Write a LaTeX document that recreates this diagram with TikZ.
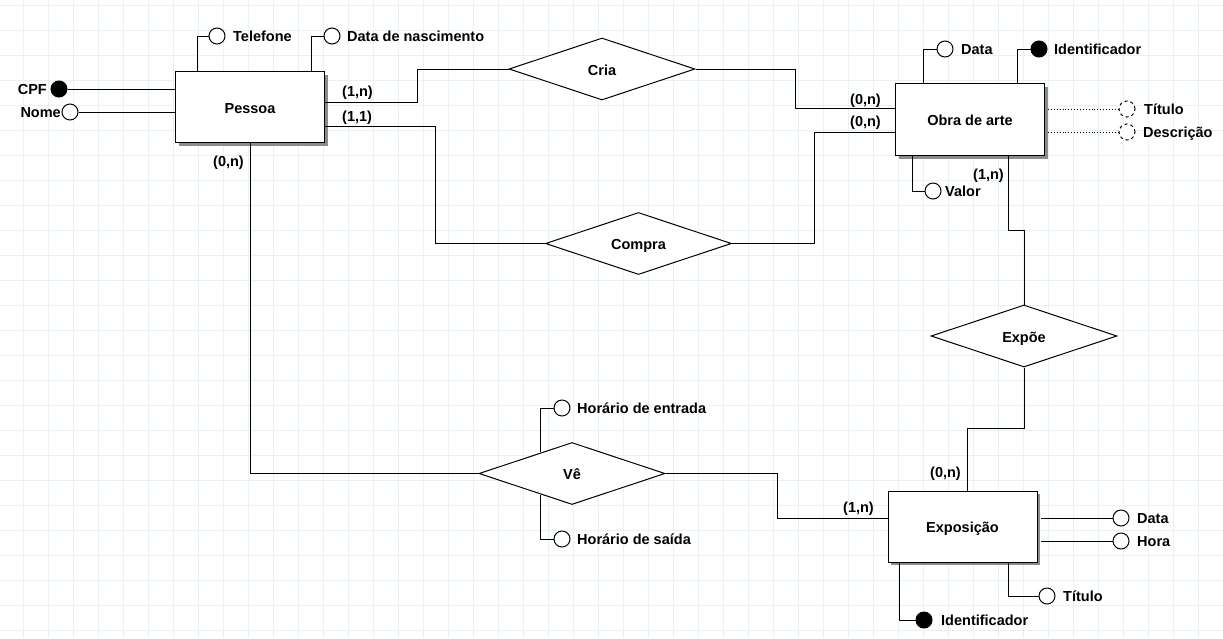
\documentclass[tikz,border=0pt]{standalone}
\usepackage{fontspec}
\setmainfont{Liberation Sans}
\usetikzlibrary{shapes.geometric,calc,shadows}
\definecolor{gridc}{RGB}{234,241,245}
\begin{document}
\begin{tikzpicture}[x=1pt,y=-1pt,
  every node/.style={font=\fontsize{14.5}{16}\selectfont\bfseries},
  entity/.style={draw, fill=white, line width=1pt, minimum width=149pt, minimum height=71pt, inner sep=0pt,
    text height=12pt, text depth=0pt,
    general shadow={fill=black!45, shadow xshift=3pt, shadow yshift=-3pt}},
  rel/.style={draw, fill=white, diamond, line width=1pt, minimum width=186pt, minimum height=62pt, inner sep=0pt, aspect=3,
    text height=12pt, text depth=0pt},
  attr/.style={circle, draw, fill=white, line width=1pt, minimum size=16pt, inner sep=0pt},
  keyattr/.style={attr, fill=black},
  optattr/.style={attr, dashed},
  lbl/.style={anchor=base west, inner sep=0pt, yshift=-5pt},
  lblr/.style={anchor=base east, inner sep=0pt, yshift=-5pt},
  conn/.style={line width=1pt},
]
\useasboundingbox (0,0) rectangle (1223,638);
\fill[white] (0,0) rectangle (1223,638);
\foreach \x in {23,48,...,1223} \draw[gridc, line width=1pt] (\x,0) -- (\x,638);
\foreach \y in {5,30,...,638} \draw[gridc, line width=1pt] (0,\y) -- (1223,\y);

% entities
\node[entity] (pessoa) at (250,107) {Pessoa};
\node[entity, minimum height=72pt] (obra) at (970,119.5) {Obra de arte};
\node[entity] (exposicao) at (962.5,526.5) {Exposição};

% relationships
\node[rel] (cria) at (602,69) {Cria};
\node[rel] (compra) at (638.5,243.5) {Compra};
\node[rel] (expoe) at (1024,336) {Expõe};
\node[rel] (ve) at (572,473.5) {Vê};

% attributes
\node[attr] (tel) at (217,36) {};
\node[attr] (dn) at (332,36) {};
\node[keyattr] (cpf) at (59,89) {};
\node[attr] (nome) at (70,112) {};
\node[attr] (odata) at (945,49) {};
\node[keyattr] (oid) at (1039,49) {};
\node[optattr] (otit) at (1127,109) {};
\node[optattr] (odesc) at (1127,132) {};
\node[attr] (oval) at (933,191) {};
\node[attr] (edata) at (1121,518) {};
\node[attr] (ehora) at (1121,541) {};
\node[attr] (etit) at (1047,596) {};
\node[keyattr] (eid) at (924,620) {};
\node[attr] (hent) at (562,408) {};
\node[attr] (hsai) at (562,539) {};

% attribute labels
\node[lbl] (ltel) at (233,36) {Telefone};
\node[lbl] (ldn) at (347,36) {Data de nascimento};
\node[lblr] (lcpf) at (47,89) {CPF};
\node[lblr] (lnome) at (61,112) {Nome};
\node[lbl] (lodata) at (961,49) {Data};
\node[lbl] (loid) at (1054,49) {Identificador};
\node[lbl] (lotit) at (1144,109) {Título};
\node[lbl] (lodesc) at (1143,132) {Descrição};
\node[lbl] (loval) at (945,191) {Valor};
\node[lbl] (ledata) at (1137,518) {Data};
\node[lbl] (lehora) at (1137,541) {Hora};
\node[lbl] (letit) at (1063,596) {Título};
\node[lbl] (leid) at (941,620) {Identificador};
\node[lbl] (lhent) at (577,408) {Horário de entrada};
\node[lbl] (lhsai) at (577,539) {Horário de saída};

% cardinalities
\node[lbl] (k1) at (342,91) {(1,n)};
\node[lbl] (k2) at (342,116) {(1,1)};
\node[lbl] (k3) at (213,161) {(0,n)};
\node[lbl] (k4) at (850,99) {(0,n)};
\node[lbl] (k5) at (850,121) {(0,n)};
\node[lbl] (k6) at (973,174) {(1,n)};
\node[lbl] (k7) at (930,472) {(0,n)};
\node[lbl] (k8) at (843,507) {(1,n)};

% bend points
\coordinate (c1) at (417,69);
\coordinate (c2) at (435,243.5);
\coordinate (c3) at (795,108);
\coordinate (c4) at (814,132);
\coordinate (c5) at (1024,230);
\coordinate (c6) at (967,428);
\coordinate (c7) at (777,518);

% connectors
\draw[conn] (tel.west) -| ([xshift=22pt]pessoa.north west);
\draw[conn] (dn.west) -| ([xshift=136pt]pessoa.north west);
\draw[conn] (cpf) -- (pessoa.west |- cpf);
\draw[conn] (nome) -- (pessoa.west |- nome);
\draw[conn] ([yshift=5pt]pessoa.east) -| (c1) -- (cria.west);
\draw[conn] ([yshift=-19pt]pessoa.east) -| (c2) -- (compra.west);
\draw[conn] (cria.east) -| (c3) -- (obra.west |- c3);
\draw[conn] (compra.east) -| (c4) -- (obra.west |- c4);
\draw[conn] (odata.west) -| ([xshift=28.5pt]obra.north west);
\draw[conn] (oid.west) -| ([xshift=122.5pt]obra.north west);
\draw[line width=0.9pt, dotted] ([xshift=3pt]obra.east |- otit) -- (otit);
\draw[line width=0.9pt, dotted] ([xshift=3pt]obra.east |- odesc) -- (odesc);
\draw[conn] (oval.west) -| ([xshift=17.5pt]obra.south west);
\draw[conn] ([xshift=113.5pt]obra.south west) |- (c5) -- (expoe.north);
\draw[conn] (expoe.south) |- (c6) -- (exposicao.north -| c6);
\draw[conn] (pessoa.south) |- (ve.west);
\draw[conn] (ve.east) -| (c7) -- (exposicao.west |- c7);
\draw[conn] (hent.west) -| ($(ve.west)!0.667!(ve.north)$);
\draw[conn] (hsai.west) -| ($(ve.west)!0.667!(ve.south)$);
\draw[conn] (edata) -- ([xshift=3pt]exposicao.east |- edata);
\draw[conn] (ehora) -- ([xshift=3pt]exposicao.east |- ehora);
\draw[conn] (etit.west) -| ([xshift=121pt]exposicao.south west);
\draw[conn] (eid.west) -| ([xshift=12pt]exposicao.south west);
\end{tikzpicture}
\end{document}
